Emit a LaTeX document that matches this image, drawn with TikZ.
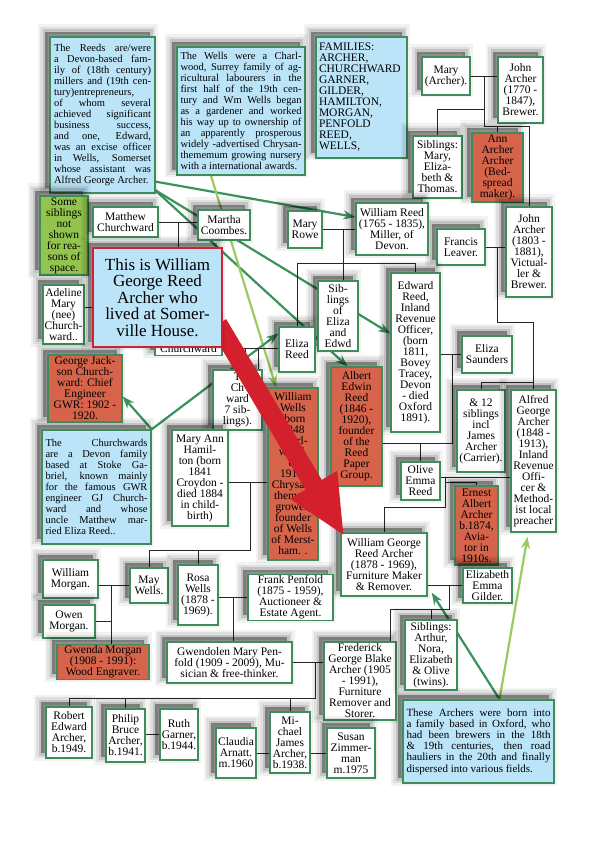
\documentclass[tikz,border=0pt]{standalone}
\usepackage{fontspec}
\setmainfont{Liberation Serif}
\usetikzlibrary{arrows.meta, shadows, backgrounds}

\definecolor{edgegreen}{RGB}{62,140,92}
\definecolor{paleblue}{RGB}{187,228,248}
\definecolor{brick}{RGB}{214,100,74}
\definecolor{leaf}{RGB}{146,196,78}
\definecolor{signred}{RGB}{212,32,44}
\definecolor{pointgreen}{RGB}{58,146,92}
\definecolor{lightpoint}{RGB}{152,204,96}

\begin{document}
\begin{tikzpicture}[
    x=1pt, y=-1pt,
    dims/.style 2 args={minimum width=#1pt, minimum height=#2pt},
    shade/.style={drop shadow={shadow xshift=-5pt, shadow yshift=5pt, fill=black, draw=black, line width=15pt, opacity=0.05},
                  drop shadow={shadow xshift=-5pt, shadow yshift=5pt, fill=black, draw=black, line width=10pt, opacity=0.08},
                  drop shadow={shadow xshift=-5pt, shadow yshift=5pt, fill=black, draw=black, line width=5pt, opacity=0.12},
                  drop shadow={shadow xshift=-5pt, shadow yshift=5pt, fill=black, draw=none, opacity=0.16}},
    person/.style={rectangle, draw=edgegreen, line width=1.4pt, fill=white, align=center, inner sep=1pt, font=\fontsize{11.5}{11}\selectfont, shade},
    famous/.style={person, fill=brick},
    omitted/.style={person, fill=leaf},
    note/.style={person, fill=paleblue, align=justify, inner sep=3pt, font=\fontsize{10.5}{11}\selectfont},
    headline/.style={person, fill=paleblue, draw=signred, line width=2.2pt, font=\fontsize{17}{16.5}\selectfont},
    tie/.style={draw=black!85, line width=0.7pt},
    pointer/.style={-{Stealth[length=12pt, width=9pt]}, line width=2.2pt, draw=pointgreen},
    softpointer/.style={pointer, draw=lightpoint},
    bigarrow/.style={-{Triangle[length=60pt, width=50pt]}, line width=19pt, draw=signred}
]
\useasboundingbox (0,0) rectangle (596,842);

% NOTES
\node[note, text width=97pt, dims={105}{156}] (reedsnote) at (102.5,115) {\parfillskip=0pt
    The Reeds are/were\linebreak
    a Devon-based fam-\linebreak
    ily of (18th century)\linebreak
    millers and (19th cen-\linebreak
    tury)entrepreneurs,\linebreak
    of whom several\linebreak
    achieved significant\linebreak
    business success,\linebreak
    and one, Edward,\linebreak
    was an excise officer\linebreak
    in Wells, Somerset\linebreak
    whose assistant was\linebreak
    Alfred George Archer.
};
\node[note, text width=121pt, dims={128}{128}] (wellsnote) at (241,111) {\parfillskip=0pt
    The Wells were a Charl-\linebreak
    wood, Surrey family of ag-\linebreak
    ricultural labourers in the\linebreak
    first half of the 19th cen-\linebreak
    tury and Wm Wells began\linebreak
    as a gardener and worked\linebreak
    his way up to ownership of\linebreak
    an apparently prosperous\linebreak
    widely -advertised Chrysan-\linebreak
    thememum growing nursery\linebreak
    with a international awards.
};
\node[note, align=left, text width=85pt, dims={91}{121}, font=\fontsize{11.5}{11}\selectfont] (familiesnote) at (361.5,97.5) {
    FAMILIES:\\ARCHER,\\CHURCHWARD\\GARNER,\\GILDER,\\HAMILTON,\\MORGAN,\\PENFOLD\\REED,\\WELLS,
};
\node[note, text width=102pt, dims={109}{114}] (churchnote) at (96.5,487) {\parfillskip=0pt
    The Churchwards\linebreak
    are a Devon family\linebreak
    based at Stoke Ga-\linebreak
    briel, known mainly\linebreak
    for the famous GWR\linebreak
    engineer GJ Church-\linebreak
    ward and whose\linebreak
    uncle Matthew mar-\linebreak
    ried Eliza Reed..
};
\node[note, text width=144pt, dims={151}{83}, font=\fontsize{11}{11.2}\selectfont] (archersnote) at (478.5,741.5) {\parfillskip=0pt
    These Archers were born into\linebreak
    a family based in Oxford, who\linebreak
    had been brewers in the 18th\linebreak
    \& 19th centuries, then road\linebreak
    hauliers in the 20th and finally\linebreak
    dispersed into various fields.
};
\node[omitted, dims={48}{79}] (omitnote) at (64,235.5) {Some\\siblings\\not\\shown\\for rea-\\sons of\\space.};

% ARCHERS (TOP RIGHT)
\node[person, dims={48}{38}] (maryarcher) at (446,76) {Mary\\(Archer).};
\node[person, dims={45}{66}] (johnarcher) at (520.5,90) {John\\Archer\\(1770 -\\1847),\\Brewer.};
\node[person, dims={49}{62}] (siblingsmet) at (437.5,167) {Siblings:\\Mary,\\Eliza-\\beth \&\\Thomas.};
\node[famous, dims={51}{69}] (ann) at (497.5,167.5) {Ann\\Archer\\Archer\\(Bed-\\spread\\maker).};
\node[person, dims={46}{90}] (john1803) at (529,252) {John\\Archer\\(1803 -\\1881),\\Victual-\\ler \&\\Brewer.};
\node[person, dims={48}{36}] (francis) at (461,247) {Francis\\Leaver.};
\node[person, dims={48}{82}] (twelvesibs) at (481,431) {\& 12\\siblings\\incl\\James\\Archer\\(Carrier).};
\node[person, dims={45}{142}] (alfred) at (533.5,461) {Alfred\\George\\Archer\\(1848 -\\1913),\\Inland\\Revenue\\Offi-\\cer \&\\Method-\\ist local\\preacher};
\node[famous, dims={43}{79}] (ernest) at (476.5,525.5) {Ernest\\Albert\\Archer\\b.1874,\\Avia-\\tor in\\1910s.};

% REEDS
\node[person, dims={34}{37}] (maryrowe) at (305,229.5) {Mary\\Rowe};
\node[person, dims={72}{52}] (williamreed) at (392,229) {William Reed\\(1765 - 1835),\\Miller, of\\Devon.};
\node[person, dims={40}{70}] (sibeliza) at (338,316) {Sib-\\lings\\of\\Eliza\\and\\Edwd};
\node[person, dims={49}{159}] (edward) at (415.5,352.5) {Edward\\Reed,\\Inland\\Revenue\\Officer,\\(born\\1811,\\Bovey\\Tracey,\\Devon\\- died\\Oxford\\1891).};
\node[person, dims={50}{37}] (elizasaunders) at (487,354.5) {Eliza\\Saunders};
\node[person, dims={36}{45}] (elizareed) at (297,349.5) {Eliza\\Reed};
\node[famous, dims={51}{119}] (albert) at (356.5,426.5) {Albert\\Edwin\\Reed\\(1846 -\\1920),\\founder\\of the\\Reed\\Paper\\Group.};
\node[person, dims={39}{38}] (olive) at (420.5,481) {Olive\\Emma\\Reed};

% CHURCHWARDS AND WELLS
\node[person, dims={65}{30}] (matthew) at (125.5,222) {Matthew\\Churchward};
\node[person, dims={52}{30}] (martha) at (224,225) {Martha\\Coombes.};
\node[person, dims={41}{59}] (adeline) at (63.5,314.5) {Adeline\\Mary\\(nee)\\Church-\\ward..};
\node[famous, dims={74}{67}] (georgejc) at (85,388.5) {George Jack-\\son Church-\\ward: Chief\\Engineer\\GWR: 1902 -\\1920.};
\node[person, anchor=south, minimum width=67pt, text height=26pt, text depth=2pt] (hiddench) at (188.5,356) {Churchward};
\node[person, dims={49}{60}] (chsibs) at (237.5,400) {T\\Ch\\ward\\7 sib-\\lings).};
\node[famous, dims={50}{172}] (williamwells) at (293,474) {William\\Wells\\(born\\1848\\Charl-\\wood,\\d.\\1919,\\Chrysan-\\themum\\grower,\\founder\\of Wells\\of Merst-\\ham. .};
\node[person, dims={56}{96}] (maryann) at (200,478) {Mary Ann\\Hamil-\\ton (born\\1841\\Croydon -\\died 1884\\in child-\\birth)};

% LOWER GENERATIONS
\node[person, dims={86}{63}] (wgra) at (384,564.5) {William George\\Reed Archer\\(1878 - 1969),\\Furniture Maker\\\& Remover.};
\node[person, dims={49}{35}] (elizabeth) at (487.5,585.5) {Elizabeth\\Emma\\Gilder.};
\node[person, dims={55}{38}] (wmorgan) at (70.5,579) {William\\Morgan.};
\node[person, dims={52}{33}] (owen) at (69,621.5) {Owen\\Morgan.};
\node[person, dims={38}{35}] (may) at (149,585.5) {May\\Wells.};
\node[person, dims={40}{60}] (rosa) at (198,595) {Rosa\\Wells\\(1878 -\\1969).};
\node[person, dims={85}{45}] (frank) at (290.5,597.5) {Frank Penfold\\(1875 - 1959),\\Auctioneer \&\\Estate Agent.};
\node[famous, dims={92}{34}] (gwenda) at (103,662) {Gwenda Morgan\\(1908 - 1991):\\Wood Engraver.};
\node[person, dims={125}{41}] (gwendolen) at (229.5,662.5) {Gwendolen Mary Pen-\\fold (1909 - 2009), Mu-\\sician \& free-thinker.};
\node[person, dims={72}{78}] (frederick) at (360,681) {Frederick\\George Blake\\Archer (1905\\- 1991),\\Furniture\\Remover and\\Storer.};
\node[person, dims={52}{70}] (sibsarthur) at (431,655) {Siblings:\\Arthur,\\Nora,\\Elizabeth\\\& Olive\\(twins).};
\node[person, dims={46}{51}] (robert) at (69,732.5) {Robert\\Edward\\Archer,\\b.1949.};
\node[person, dims={39}{53}] (philip) at (125.5,735.5) {Philip\\Bruce\\Archer,\\b.1941.};
\node[person, dims={38}{51}] (ruth) at (179,734.5) {Ruth\\Garner,\\b.1944.};
\node[person, dims={40}{50}] (claudia) at (236,753) {Claudia\\Arnatt.\\m.1960};
\node[person, dims={40}{61}] (michael) at (290,742.5) {Mi-\\chael\\James\\Archer,\\b.1938.};
\node[person, dims={48}{50}] (susan) at (351,753) {Susan\\Zimmer-\\man\\m.1975};

\begin{scope}[on background layer]
\fill[white] (0,0) rectangle (596,842);

% pointers from the notes
\coordinate (reedsout) at (152,181);
\coordinate (reedsfoot) at (155,190);
\draw[pointer] (reedsout) -- (williamreed.162);
\draw[pointer] (reedsfoot) -- ([yshift=19pt]edward.west);
\draw[pointer] (reedsfoot) -- ([xshift=-9pt]albert.north);
\draw[softpointer] ([xshift=-30pt]wellsnote.south) -- ([xshift=-17pt]williamwells.north);
\draw[pointer] (churchnote.north east) -- ([yshift=-8pt]georgejc.east);
\draw[pointer] (churchnote.north east) -- ([yshift=16pt]elizareed.west);
\draw[pointer] ([xshift=21pt]archersnote.north) -- ([xshift=4pt, yshift=4pt]wgra.south east);
\draw[softpointer] ([xshift=21pt]archersnote.north) -- ([xshift=-6pt, yshift=-4pt]alfred.south);

% Archer lines
\coordinate (mj1) at (484,76);
\coordinate (kj1) at (484,126);
\coordinate (kj1a) at (484,109);
\draw[tie] (maryarcher.east) -- (maryarcher.east -| johnarcher.west);
\draw[tie] (mj1) -- (kj1);
\draw[tie] (kj1a) -| (siblingsmet.north);
\draw[tie] (kj1) -| (ann.north);
\draw[tie] (kj1) -| (john1803.north);
\coordinate (mj2) at (497,247);
\coordinate (kj2) at (497,322);
\coordinate (kj2a) at (533.5,382);
\draw[tie] (francis.east) -- (francis.east -| john1803.west);
\draw[tie] (mj2) -- (kj2) -| (alfred.north);
\draw[tie] (kj2a) -| (twelvesibs.north);

% Reed lines
\coordinate (mj3) at (343,229.5);
\coordinate (kj3) at (343,263);
\draw[tie] (maryrowe.east) -- (maryrowe.east -| williamreed.west);
\draw[tie] (mj3) -- (kj3);
\draw[tie] (kj3) -| (elizareed.north);
\draw[tie] (kj3) -| (edward.north);
\draw[tie] (kj3) -- (kj3 |- sibeliza.north);
\coordinate (mj4) at (452,354.5);
\coordinate (kj4) at (452,443);
\draw[tie] (edward.east |- elizasaunders.west) -- (elizasaunders.west);
\draw[tie] (mj4) -- (kj4) -- (kj4 -| albert.east);
\draw[tie] (kj4 -| olive.north) -- (olive.north);
\coordinate (mj5) at (445,477);
\coordinate (kj5) at (445,507);
\coordinate (kj5a) at (445,482);
\draw[tie] (olive.east |- mj5) -- (alfred.west |- mj5);
\draw[tie] (mj5) -- (kj5) -| (wgra.north);
\draw[tie] (kj5a) -| (ernest.north);

% William George and below
\coordinate (mj6) at (449,585.5);
\coordinate (kj6) at (449,609);
\coordinate (kj6a) at (390,609);
\draw[tie] (wgra.east |- elizabeth.west) -- (elizabeth.west);
\draw[tie] (mj6) -- (kj6) -- (kj6a) -- (kj6a |- frederick.north);
\draw[tie] (kj6 -| sibsarthur.north) -- (sibsarthur.north);
\coordinate (mj7) at (315,662.5);
\coordinate (kj7) at (315,698);
\draw[tie] (gwendolen.east) -- (gwendolen.east -| frederick.west);
\draw[tie] (mj7) -- (kj7) -- (kj7 -| robert.north) -- (robert.north);
\draw[tie] (kj7 -| philip.north) -- (philip.north);
\draw[tie] (kj7 -| michael.north) -- (michael.north);
\draw[tie] (philip.east |- ruth.west) -- (ruth.west);
\draw[tie] (claudia.east) -- (claudia.east -| michael.west);
\draw[tie] (michael.east |- susan.west) -- (susan.west);

% Wells, Penfold and Morgan lines
\coordinate (mj8) at (233,597.5);
\draw[tie] (rosa.east |- frank.west) -- (frank.west);
\draw[tie] (mj8) -- (mj8 |- gwendolen.north);
\coordinate (mj9) at (250,482);
\coordinate (kj9) at (250,550);
\draw[tie] (maryann.east |- mj9) -- (williamwells.west |- mj9);
\draw[tie] (mj9) -- (kj9) -| (may.north);
\draw[tie] (kj9 -| rosa.north) -- (rosa.north);
\coordinate (mj10) at (111,585.5);
\draw[tie] (wmorgan.east |- may.west) -- (may.west);
\draw[tie] (mj10) -- (mj10 |- gwenda.north);
\draw[tie] (owen.east) -- (owen.east -| mj10);

% Churchward lines
\coordinate (mj11) at (178,222);
\coordinate (kj11) at (178,307);
\draw[tie] (matthew.east) -- (matthew.east -| martha.west);
\draw[tie] (mj11) -- (kj11) -- (kj11 -| adeline.east);
\draw[tie] (kj11) -- (kj11 |- hiddench.north);
\coordinate (mj12) at (200,348);
\coordinate (kj12a) at (245,348);
\coordinate (kj12b) at (258,348);
\draw[tie] (mj12) -- (mj12 -| elizareed.west);
\draw[tie] (kj12a) -- (kj12a |- chsibs.north);
\draw[tie] (kj12b) -- (kj12b |- chsibs.north);
\end{scope}

% BIG POINTER AND HEADLINE
\coordinate (redfrom) at (218,324);
\draw[bigarrow] (redfrom) -- ([xshift=4pt, yshift=-4pt]wgra.north west);
\node[headline, dims={129}{99}] (headnote) at (157.5,297.5) {This is William\\George Reed\\Archer who\\lived at Somer-\\ville House.};

\end{tikzpicture}
\end{document}
